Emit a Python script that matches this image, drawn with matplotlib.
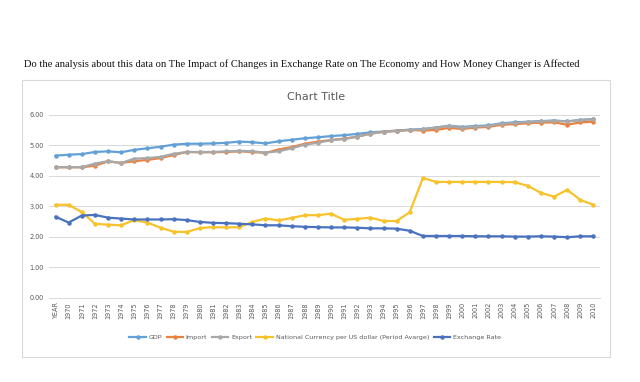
import matplotlib
matplotlib.use("Agg")
import matplotlib.pyplot as plt
from matplotlib.patches import Rectangle

categories = ["YEAR"] + [str(y) for y in range(1970, 2011)]

gdp = [4.66, 4.69, 4.71, 4.78, 4.80, 4.77, 4.85, 4.90, 4.95, 5.02, 5.05,
       5.05, 5.06, 5.08, 5.12, 5.10, 5.06, 5.13, 5.18, 5.23, 5.26,
       5.30, 5.33, 5.37, 5.42, 5.45, 5.48, 5.51, 5.53, 5.58, 5.64,
       5.60, 5.63, 5.65, 5.72, 5.75, 5.77, 5.79, 5.81, 5.78, 5.83, 5.86]

imports = [4.28, 4.28, 4.28, 4.33, 4.47, 4.42, 4.48, 4.52, 4.58, 4.68, 4.78,
           4.77, 4.77, 4.78, 4.80, 4.78, 4.75, 4.86, 4.94, 5.05, 5.12,
           5.17, 5.22, 5.28, 5.38, 5.44, 5.47, 5.50, 5.48, 5.50, 5.57,
           5.53, 5.58, 5.60, 5.67, 5.69, 5.72, 5.74, 5.75, 5.67, 5.75, 5.77]

exports = [4.28, 4.28, 4.28, 4.40, 4.48, 4.42, 4.56, 4.58, 4.62, 4.72, 4.78,
           4.78, 4.78, 4.80, 4.82, 4.80, 4.76, 4.80, 4.90, 5.02, 5.08,
           5.17, 5.20, 5.28, 5.38, 5.44, 5.47, 5.50, 5.52, 5.58, 5.63,
           5.57, 5.61, 5.63, 5.71, 5.73, 5.76, 5.78, 5.80, 5.78, 5.82, 5.85]

national_currency = [3.05, 3.05, 2.81, 2.43, 2.40, 2.38, 2.55, 2.47, 2.30, 2.17, 2.16,
                     2.29, 2.32, 2.31, 2.32, 2.49, 2.60, 2.54, 2.62, 2.71, 2.71,
                     2.76, 2.56, 2.59, 2.63, 2.52, 2.52, 2.81, 3.93, 3.80, 3.80,
                     3.80, 3.80, 3.80, 3.80, 3.79, 3.67, 3.44, 3.32, 3.54, 3.21, 3.05]

exchange_rate = [2.66, 2.47, 2.70, 2.72, 2.63, 2.60, 2.57, 2.57, 2.57, 2.58, 2.55,
                 2.49, 2.46, 2.45, 2.43, 2.41, 2.38, 2.38, 2.35, 2.33, 2.32,
                 2.31, 2.31, 2.30, 2.28, 2.28, 2.27, 2.20, 2.03, 2.03, 2.03,
                 2.03, 2.02, 2.02, 2.02, 2.01, 2.01, 2.02, 2.01, 1.99, 2.02, 2.02]

series = [
    ("GDP", gdp, "#62A0D6"),
    ("Import", imports, "#E9823E"),
    ("Export", exports, "#A8A8A8"),
    ("National Currency per US dollar (Period Avarge)", national_currency, "#F7C22B"),
    ("Exchange Rate", exchange_rate, "#4A72BE"),
]
yticks = [0, 1, 2, 3, 4, 5, 6]

W, H = 640, 382
fig = plt.figure(figsize=(6.4, 3.82), dpi=100)
fig.patch.set_facecolor("white")

def fx(px):
    return px / W

def fy(py):
    return 1 - py / H

# page heading
fig.text(fx(24), fy(64), "Do the analysis about this data on The Impact of Changes in Exchange Rate on The Economy and How Money Changer is Affected",
         family="Liberation Serif", fontsize=7.55, color="#111111", va="center", ha="left")

# chart border
fig.patches.append(Rectangle((fx(22), fy(357)), fx(610) - fx(22), fy(80) - fy(357),
                             transform=fig.transFigure, fill=False,
                             edgecolor="#d9d9d9", linewidth=0.8))

fig.text(fx(316), fy(97), "Chart Title", fontsize=8, color="#595959",
         ha="center", va="center", family="DejaVu Sans")

ax = fig.add_axes([fx(49), fy(298), fx(600) - fx(49), fy(114.7) - fy(298)])
x = list(range(len(categories)))
for name, vals, col in series:
    ax.plot(x, vals, color=col, lw=1.6, marker="o", markersize=3.2,
            markeredgewidth=0, label=name)

ax.set_xlim(-0.5, len(categories) - 0.5)
ax.set_ylim(0, 6)
ax.set_yticks(yticks)
ax.set_yticklabels([f"{v:.2f}" for v in yticks])
ax.set_xticks(x)
ax.set_xticklabels(categories, rotation=90)
ax.tick_params(axis="both", length=0, labelsize=4.7, colors="#595959")
ax.tick_params(axis="x", pad=3)
ax.tick_params(axis="y", pad=4)
ax.grid(axis="y", color="#d9d9d9", lw=0.7)
ax.set_axisbelow(True)
for s in ["top", "right", "left"]:
    ax.spines[s].set_visible(False)
ax.spines["bottom"].set_color("#d9d9d9")
ax.spines["bottom"].set_linewidth(0.7)

fig.legend(loc="center", bbox_to_anchor=(fx(315), fy(337)), ncol=5, frameon=False,
           fontsize=4.6, labelcolor="#595959", handlelength=2.6, columnspacing=0.7,
           handletextpad=0.4)

fig.savefig("out.png", dpi=100)
